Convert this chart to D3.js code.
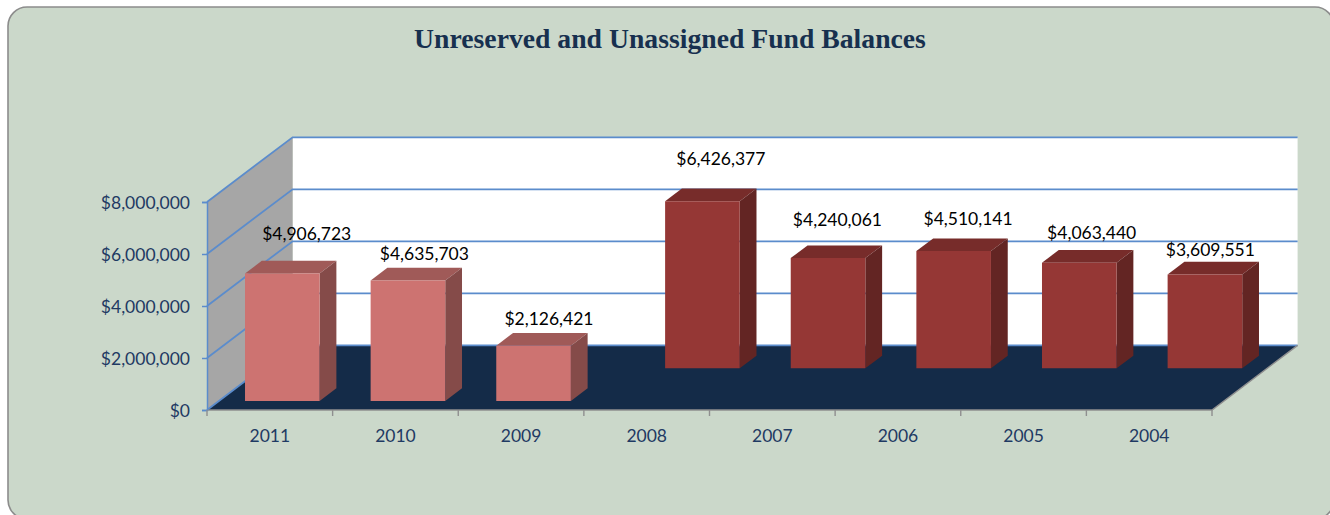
<!DOCTYPE html>
<html>
<head>
<meta charset="utf-8">
<script src="https://cdn.jsdelivr.net/npm/d3@7"></script>
<style>
html,body{margin:0;padding:0;background:#fff;overflow:hidden}
svg{display:block}
</style>
</head>
<body>
<svg id="chart" width="1330" height="515"></svg>
<script>
var categories = ["2011","2010","2009","2008","2007","2006","2005","2004"];
var recentValues = [4906723,4635703,2126421,null,null,null,null,null];
var olderValues = [null,null,null,6426377,4240061,4510141,4063440,3609551];
var yTicks = [0,2000000,4000000,6000000,8000000];
var titleText = "Unreserved and Unassigned Fund Balances";

// hand placed data labels in the source, offset from the top of the bar front
var labelDx = [25,17,16,19,10,15,13,6];
var labelDy = [-40,-27,-27,-42,-38,-32,-30,-25];

var svg = d3.select("#chart");
var money = d3.format("$,.0f");
var font = "Lato, 'Open Sans', sans-serif";
var fontSize = 17.5;

var x = d3.scaleBand().domain(categories).range([207,1212]).paddingInner(0).paddingOuter(0);
var y = d3.scaleLinear().domain([0,8000000]).range([410,202]);
// depth runs from the front of the floor (0) to the back wall (1)
var depthX = d3.scaleLinear().domain([0,1]).range([0,85.6]);
var depthY = d3.scaleLinear().domain([0,1]).range([0,-64.7]);
var barW = 74.6;

var pt = function(px,py,d){
   return (px+depthX(d))+","+(py+depthY(d));
}
var poly = function(pts,fill){
   return svg.append("polygon").attr("points",pts.join(" ")).attr("fill",fill);
}

// panel
svg.append("rect")
   .attr("x",8).attr("y",7).attr("width",1326).attr("height",512).attr("rx",19)
   .attr("fill","#cbd8ca").attr("stroke","#8c8c8c").attr("stroke-width",1.6);

// title
svg.append("text")
   .attr("x",670).attr("y",48).attr("text-anchor","middle")
   .attr("font-family","'Liberation Serif', serif").attr("font-weight","bold").attr("font-size",27.7)
   .attr("fill","#17304f").text(titleText);

// walls and floor
var x0 = x.range()[0], x1 = x.range()[1];
poly([pt(x0,y(0),1),pt(x1,y(0),1),pt(x1,y(8000000),1),pt(x0,y(8000000),1)],"#fff");
poly([pt(x0,y(0),0),pt(x0,y(0),1),pt(x0,y(8000000),1),pt(x0,y(8000000),0)],"#a6a6a6");
poly([pt(x0,y(0),0),pt(x0,y(0),1),pt(x1,y(0),1),pt(x1,y(0),0)],"#142b48");

// gridlines on side and back wall
yTicks.forEach(function(t){
   svg.append("polyline")
      .attr("points",[pt(x0,y(t),0),pt(x0,y(t),1),pt(x1,y(t),1)].join(" "))
      .attr("fill","none").attr("stroke","#5b8ccc").attr("stroke-width",1.8);
})

// floor edges
svg.append("polyline")
   .attr("points",[pt(x0,y(0),0),pt(x1,y(0),0),pt(x1,y(0),1)].join(" "))
   .attr("fill","none").attr("stroke","#8f8f8f").attr("stroke-width",1.5);

// axes
var yAxis = d3.axisLeft(y).tickValues(yTicks).tickSize(5).tickPadding(12).tickFormat(money);
var gy = svg.append("g").attr("transform","translate("+x0+",0)").call(yAxis);
gy.selectAll("path,line").attr("stroke","#5b8ccc").attr("stroke-width",1.5);
gy.selectAll("text").attr("font-family",font).attr("font-size",fontSize).attr("fill","#1f3a63")
   .attr("transform","translate(0,1)");

var xAxis = d3.axisBottom(x).tickSize(0).tickPadding(20);
var gx = svg.append("g").attr("transform","translate(0,"+y(0)+")").call(xAxis);
gx.select("path").remove();
gx.selectAll("text").attr("font-family",font).attr("font-size",fontSize).attr("fill","#1f3a63");
svg.append("g").selectAll("line").data(categories.concat([""])).enter().append("line")
   .attr("x1",function(d,i){return x0+i*x.step()})
   .attr("x2",function(d,i){return x0+i*x.step()})
   .attr("y1",y(0)).attr("y2",y(0)+6)
   .attr("stroke","#8f8f8f").attr("stroke-width",1.4);

// one series of 3d bars, back row goes first
var bars = function(values,dFront,dBack,col){
   var inset = (x.bandwidth()-barW)/2+0.6;
   values.forEach(function(v,i){
      if(v == null) return;
      var l = x(categories[i])+inset, r = l+barW;
      var b = y(0), t = y(v);
      poly([pt(l,t,dFront),pt(r,t,dFront),pt(r,t,dBack),pt(l,t,dBack)],col.top);
      poly([pt(r,b,dFront),pt(r,b,dBack),pt(r,t,dBack),pt(r,t,dFront)],col.side);
      poly([pt(l,b,dFront),pt(r,b,dFront),pt(r,t,dFront),pt(l,t,dFront)],col.face);
   })
}
bars(olderValues,0.644,0.84,{face:"#953735",side:"#632523",top:"#772c2a"});
bars(recentValues,0.139,0.335,{face:"#cd7371",side:"#854b49",top:"#a05a58"});

// data labels
var label = function(values,dFront){
   values.forEach(function(v,i){
      if(v == null) return;
      svg.append("text")
         .attr("x",x(categories[i])+x.bandwidth()/2+depthX(dFront)+labelDx[i])
         .attr("y",y(v)+depthY(dFront)+labelDy[i])
         .attr("dy","0.35em").attr("text-anchor","middle")
         .attr("font-family",font).attr("font-size",fontSize).attr("fill","#000")
         .text(money(v));
   })
}
label(olderValues,0.644);
label(recentValues,0.139);
</script>
</body>
</html>
